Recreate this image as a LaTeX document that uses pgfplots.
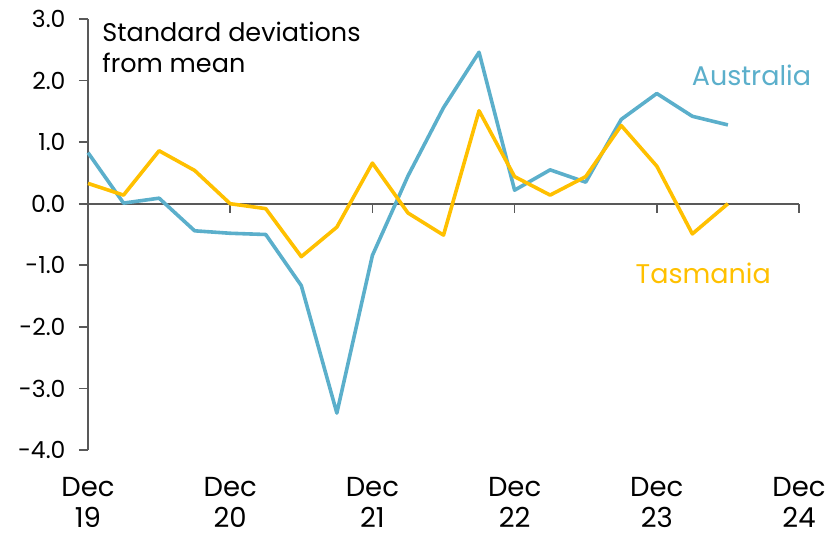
\documentclass[border=0pt]{standalone}
\usepackage{pgfplots}
\pgfplotsset{compat=1.18}
\usepackage{fontspec}
\setmainfont{Poppins}
\definecolor{aus}{HTML}{5BAFCB}
\definecolor{tas}{HTML}{FFC000}
\definecolor{axgray}{HTML}{595959}
\pgfplotstableread{
q aus tas
0 0.83 0.33
1 0.01 0.14
2 0.09 0.86
3 -0.44 0.54
4 -0.48 0.00
5 -0.50 -0.08
6 -1.33 -0.86
7 -3.40 -0.38
8 -0.84 0.66
9 0.45 -0.15
10 1.56 -0.51
11 2.46 1.51
12 0.22 0.44
13 0.55 0.14
14 0.35 0.44
15 1.37 1.27
16 1.79 0.61
17 1.42 -0.49
18 1.28 0.00
}\data
\begin{document}
\begin{tikzpicture}
\begin{axis}[
  at={(0,0)}, anchor=south west,
  scale only axis, width=711pt, height=431pt,
  xmin=0, xmax=20, ymin=-4, ymax=3,
  axis x line=middle, axis y line=left,
  hide obscured x ticks=false,
  axis line style={draw=axgray, line width=1.6pt, -},
  tick style={draw=axgray, line width=1.6pt},
  tick align=outside, major tick length=9pt,
  xtick={0,4,8,12,16,20},
  xticklabels={Dec\\19,Dec\\20,Dec\\21,Dec\\22,Dec\\23,Dec\\24},
  xticklabel style={align=center, anchor=north, inner sep=0pt, yshift=-264pt,
    font=\fontsize{27.5}{31.5}\selectfont, text=black},
  ytick={-4,-3,-2,-1,0,1,2,3},
  yticklabels={-4.0,-3.0,-2.0,-1.0,0.0,1.0,2.0,3.0},
  yticklabel style={font=\fontsize{23.5}{28}\selectfont, text=black, xshift=-10pt},
  clip=false,
]
\addplot[aus, line width=3.6pt, line join=round] table[x=q,y=aus]{\data};
\addplot[tas, line width=3.6pt, line join=round] table[x=q,y=tas]{\data};
\node[anchor=north west, inner sep=0, align=left, font=\fontsize{25.5}{31}\selectfont]
  at (axis cs:0.4,2.95) {Standard deviations\\from mean};
\node[anchor=base west, inner sep=0, text=aus, font=\fontsize{27}{30}\selectfont]
  at (axis cs:16.98,1.92) {Australia};
\node[anchor=base west, inner sep=0, text=tas, font=\fontsize{27}{30}\selectfont]
  at (axis cs:15.4,-1.30) {Tasmania};
\end{axis}
\pgfresetboundingbox
\path[use as bounding box] (-88pt,-89pt) rectangle (740pt,450pt);
\end{tikzpicture}
\end{document}
